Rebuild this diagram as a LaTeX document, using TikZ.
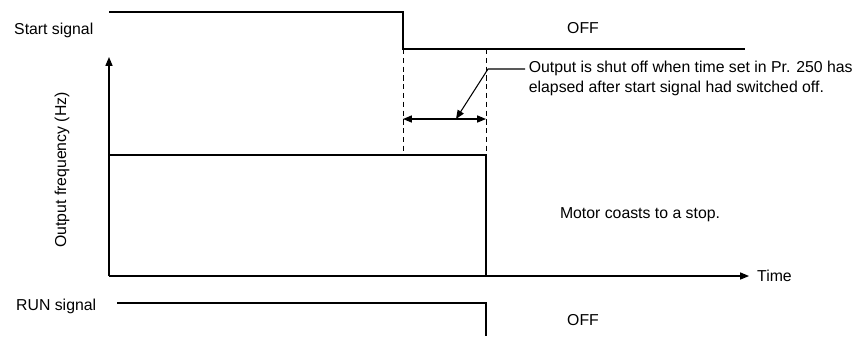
\documentclass[tikz,border=0pt]{standalone}
\usepackage{fontspec}
\setmainfont{Liberation Sans}
\usetikzlibrary{arrows.meta}

\begin{document}
\begin{tikzpicture}[x=0.02cm, y=-0.02cm, font=\fontsize{9}{11.3}\selectfont,
    sig/.style={line width=1.1pt},
    ax/.style={line width=0.6pt},
    tip/.style={-{Triangle[length=5pt,width=4pt]}},
    guide/.style={line width=0.5pt, dash pattern=on 3pt off 2pt}]
    \useasboundingbox (0,0) rectangle (857,336);

    % start signal
    \coordinate (s0) at (109,12);
    \coordinate (s1) at (403,12);
    \coordinate (s2) at (403,49);
    \coordinate (s3) at (745,49);
    \draw[sig] (s0) -- (s1) -- (s2) -- (s3);
    \node[anchor=west] (start) at (8,30) {Start signal};
    \node (off1) at (583,28) {OFF};

    % axes
    \coordinate (o) at (109,276);
    \coordinate (ytop) at (109,57);
    \coordinate (xend) at (749,276);
    \draw[ax,tip] (o) -- (ytop);
    \draw[ax,tip] (o) -- (xend);
    \node[anchor=west] (time) at (751,276) {Time};
    \node[rotate=90] (freq) at (62,170) {Output frequency (Hz)};

    % output frequency
    \coordinate (f0) at (109,155);
    \coordinate (f1) at (486,155);
    \coordinate (f2) at (486,276);
    \draw[sig] (f0) -- (f1) -- (f2);
    \node (coast) at (640,215) {Motor coasts to a stop.};

    % time set in Pr. 250
    \coordinate (d0) at (486,49);
    \draw[guide] (s2) -- (s2 |- f0);
    \draw[guide] (d0) -- (f1);
    \coordinate (a0) at (403,119);
    \coordinate (a1) at (486,119);
    \draw[ax,{Triangle[length=5pt,width=4pt]}-{Triangle[length=5pt,width=4pt]}] (a0) -- (a1);
    \node[anchor=west, align=left, inner sep=2pt] (note) at (525,78)
        {Output is shut off when time set in Pr. 250 has\\elapsed after start signal had switched off.};
    \coordinate (k) at (488,69);
    \coordinate (m) at (456,119);
    \draw[ax,tip] (note.west |- k) -- (k) -- (m);

    % RUN signal
    \coordinate (r0) at (117,303);
    \coordinate (r1) at (486,303);
    \coordinate (r2) at (486,336);
    \draw[sig] (r0) -- (r1) -- (r2);
    \node[anchor=west] (run) at (10,306) {RUN signal};
    \node (off2) at (583,320) {OFF};
\end{tikzpicture}
\end{document}
